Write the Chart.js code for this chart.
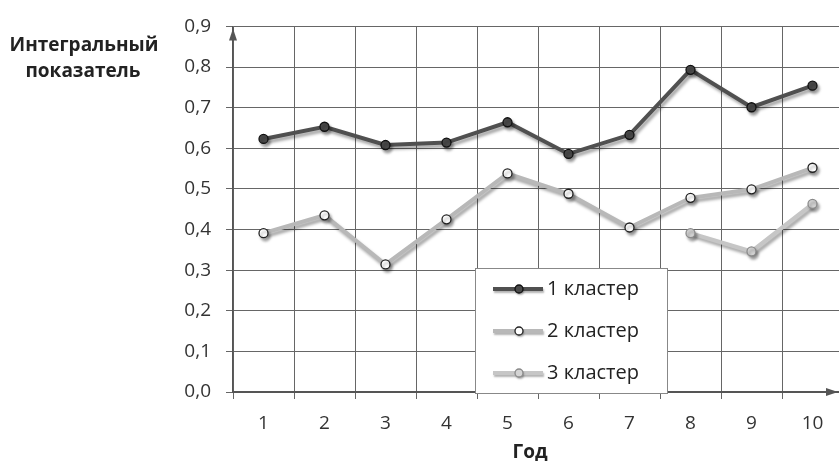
<!DOCTYPE html>
<html>
<head>
<meta charset="utf-8">
<script src="https://cdn.jsdelivr.net/npm/chart.js@4/dist/chart.umd.min.js"></script>
<style>
html,body{margin:0;padding:0;background:#fff;overflow:hidden;}
#wrap{position:relative;width:860px;height:461px;}
</style>
</head>
<body>
<div id="wrap"><canvas id="c" width="860" height="461"></canvas></div>
<script>
const years = ["1","2","3","4","5","6","7","8","9","10"];
const cluster1 = [0.623,0.653,0.608,0.614,0.664,0.586,0.633,0.793,0.701,0.754];
const cluster2 = [0.391,0.435,0.314,0.425,0.538,0.488,0.405,0.478,0.499,0.552];
const cluster3 = [null,null,null,null,null,null,null,0.391,0.346,0.463];
const seriesNames = ["1 кластер","2 кластер","3 кластер"];
const yTitleLines = ["Интегральный","показатель"];
const xTitle = "Год";

const FONT = "'Open Sans', sans-serif";

const shadowPlugin = {
  id:'shadow',
  beforeDatasetDraw(chart){
    const ctx = chart.ctx; ctx.save();
    ctx.shadowColor='rgba(0,0,0,0.35)'; ctx.shadowOffsetX=2; ctx.shadowOffsetY=3; ctx.shadowBlur=3;
  },
  afterDatasetDraw(chart){ chart.ctx.restore(); }
};

const decoPlugin = {
  id:'deco',
  afterDraw(chart){
    const ctx = chart.ctx, a = chart.chartArea;
    ctx.save();
    ctx.strokeStyle='#555'; ctx.fillStyle='#555'; ctx.lineWidth=1.5;
    ctx.beginPath(); ctx.moveTo(a.left, a.top+2); ctx.lineTo(a.left-4, a.top+14); ctx.lineTo(a.left+4, a.top+14); ctx.closePath(); ctx.fill();
    const y0 = chart.scales.y.getPixelForValue(0);
    ctx.beginPath(); ctx.moveTo(838, y0); ctx.lineTo(826, y0-4); ctx.lineTo(826, y0+4); ctx.closePath(); ctx.fill();
    ctx.fillStyle='#222'; ctx.font="bold 19px "+FONT; ctx.textAlign='center'; ctx.textBaseline='middle';
    ctx.fillText(yTitleLines[0], 84, 46);
    ctx.fillText(yTitleLines[1], 83, 72);
    ctx.fillText(xTitle, 530, 453);
    const lx=475, ly=268, lw=192, lh=125;
    ctx.fillStyle='#fff'; ctx.fillRect(lx,ly,lw,lh);
    ctx.strokeStyle='#888'; ctx.lineWidth=1; ctx.strokeRect(lx+0.5,ly+0.5,lw,lh);
    const rows=[289,331,373];
    chart.data.datasets.forEach((ds,i)=>{
      const yy=rows[i];
      ctx.save();
      ctx.shadowColor='rgba(0,0,0,0.3)'; ctx.shadowOffsetX=1; ctx.shadowOffsetY=2; ctx.shadowBlur=2;
      ctx.strokeStyle=ds.borderColor; ctx.lineWidth=ds.borderWidth;
      ctx.beginPath(); ctx.moveTo(493,yy); ctx.lineTo(543,yy); ctx.stroke();
      ctx.beginPath(); ctx.arc(519,yy,4,0,Math.PI*2);
      ctx.fillStyle=ds.pointBackgroundColor; ctx.fill();
      ctx.shadowColor='rgba(0,0,0,0)';
      ctx.strokeStyle=ds.pointBorderColor; ctx.lineWidth=1.3; ctx.stroke();
      ctx.restore();
      ctx.fillStyle='#222'; ctx.font="20px "+FONT; ctx.textAlign='left'; ctx.textBaseline='middle';
      ctx.fillText(ds.label, 547, yy);
    });
    ctx.restore();
  }
};

new Chart(document.getElementById('c'), {
  type:'line',
  data:{
    labels: years,
    datasets:[
      {label:seriesNames[0], data:cluster1, borderColor:'#505050', borderWidth:4, pointRadius:4.5,
       pointBackgroundColor:'#4a4a4a', pointBorderColor:'#111', pointBorderWidth:1.3, tension:0},
      {label:seriesNames[1], data:cluster2, borderColor:'#b8b8b8', borderWidth:4, pointRadius:4.5,
       pointBackgroundColor:'#ffffff', pointBorderColor:'#222', pointBorderWidth:1.3, tension:0},
      {label:seriesNames[2], data:cluster3, borderColor:'#c6c6c6', borderWidth:4, pointRadius:4.5,
       pointBackgroundColor:'#d4d4d4', pointBorderColor:'#8a8a8a', pointBorderWidth:1.3, tension:0, spanGaps:false}
    ]
  },
  options:{
    responsive:false, animation:false, devicePixelRatio:1,
    layout:{padding:{left:0,top:18,right:17,bottom:0}},
    plugins:{legend:{display:false}, tooltip:{enabled:false}},
    scales:{
      x:{
        offset:true,
        grid:{color:'#666', lineWidth:1, tickLength:7, offset:true, drawOnChartArea:true},
        border:{color:'#555', width:2},
        ticks:{color:'#333', font:{family:FONT, size:19}, padding:13, maxRotation:0},
        afterFit(s){ s.height = 69; }
      },
      y:{
        min:0, max:0.9,
        grid:{color:'#666', lineWidth:1, tickLength:7},
        border:{color:'#555', width:1.5},
        ticks:{stepSize:0.1, color:'#333', font:{family:FONT, size:19}, padding:15,
          callback:(v)=>v.toFixed(1).replace('.',',')},
        afterFit(s){ s.width = 233; }
      }
    }
  },
  plugins:[shadowPlugin, decoPlugin]
});
</script>
</body>
</html>
